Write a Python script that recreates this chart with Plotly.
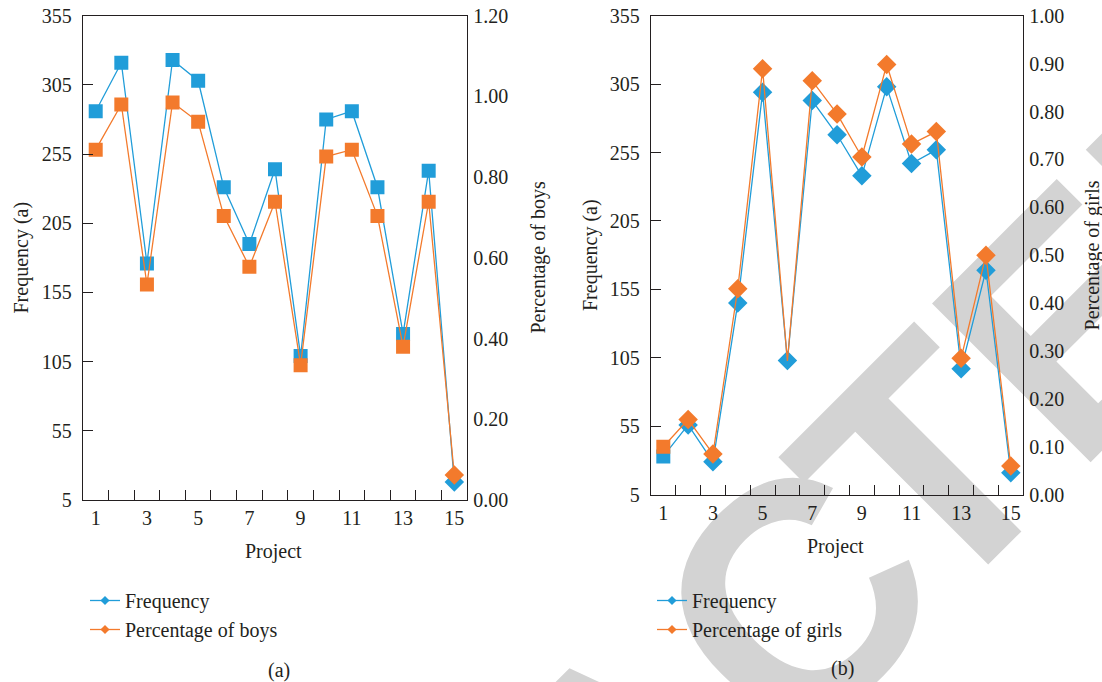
import plotly.graph_objects as go

# ---------------- data ----------------
projects = [str(i) for i in range(1, 16)]
tick_labels = ["1", "", "3", "", "5", "", "7", "", "9", "", "11", "", "13", "", "15"]

freq_a = [286, 321, 176, 323, 308, 231, 190, 244, 109, 280, 286, 231, 125, 243, 18]
boys_pct = [0.868, 0.980, 0.534, 0.985, 0.937, 0.704, 0.578, 0.739, 0.334,
            0.851, 0.868, 0.704, 0.380, 0.739, 0.062]

freq_b = [33, 56, 29, 145, 299, 103, 293, 268, 238, 303, 247, 257, 97, 169, 21]
girls_pct = [0.100, 0.157, 0.085, 0.430, 0.889, 0.279, 0.864, 0.795, 0.705,
             0.898, 0.732, 0.758, 0.285, 0.500, 0.060]

freq_ticks = [5, 55, 105, 155, 205, 255, 305, 355]
boys_ticks = [0, 0.2, 0.4, 0.6, 0.8, 1.0, 1.2]
girls_ticks = [0, 0.1, 0.2, 0.3, 0.4, 0.5, 0.6, 0.7, 0.8, 0.9, 1.0]

# ---------------- styles ----------------
BLUE = "#219DD9"
ORANGE = "#F37A2C"
INK = "#231F20"
SERIF = "Liberation Serif, Times New Roman, serif"
W, H = 1102, 682

sym_a = ["square"] * 14 + ["diamond"]
size_a = [14] * 14 + [15]
sym_b = ["square"] + ["diamond"] * 14
size_b = [14] + [15] * 14
size_girls = [14] + [15] * 4 + [0] + [15] * 9


def px(x):
    return x / W


def py(y):
    return 1 - y / H


def mk(color, symbols, sizes):
    return dict(color=color, symbol=symbols, size=sizes, opacity=1, line=dict(width=0))


fig = go.Figure()

# left chart
fig.add_trace(go.Scatter(x=projects, y=freq_a, xaxis="x", yaxis="y", mode="lines+markers",
                         line=dict(color=BLUE, width=1.3), marker=mk(BLUE, sym_a, size_a),
                         showlegend=False, name="Frequency"))
fig.add_trace(go.Scatter(x=projects, y=boys_pct, xaxis="x", yaxis="y2", mode="lines+markers",
                         line=dict(color=ORANGE, width=1.3), marker=mk(ORANGE, sym_a, size_a),
                         showlegend=False, name="Percentage of boys"))
# right chart
fig.add_trace(go.Scatter(x=projects, y=freq_b, xaxis="x2", yaxis="y3", mode="lines+markers",
                         line=dict(color=BLUE, width=1.3), marker=mk(BLUE, sym_b, size_b),
                         showlegend=False, name="Frequency"))
fig.add_trace(go.Scatter(x=projects, y=girls_pct, xaxis="x2", yaxis="y4", mode="lines+markers",
                         line=dict(color=ORANGE, width=1.3), marker=mk(ORANGE, sym_b, size_girls),
                         showlegend=False, name="Percentage of girls"))

# legend entries
for name, col, leg, xa, ya in [("Frequency", BLUE, "legend", "x", "y"),
                               ("Percentage of boys", ORANGE, "legend", "x", "y2"),
                               ("Frequency", BLUE, "legend2", "x2", "y3"),
                               ("Percentage of girls", ORANGE, "legend2", "x2", "y4")]:
    fig.add_trace(go.Scatter(x=[None], y=[None], xaxis=xa, yaxis=ya, mode="lines+markers",
                             line=dict(color=col, width=1.3),
                             marker=dict(color=col, symbol="diamond", size=7),
                             name=name, legend=leg, showlegend=True))

tickfont = dict(family=SERIF, size=20, color=INK)
xcommon = dict(type="category", tickvals=projects, ticktext=tick_labels, tickson="boundaries",
               ticks="inside", ticklen=10, tickwidth=1.3, tickcolor=INK, tickangle=0,
               showline=True, linecolor=INK, linewidth=1.3, mirror=True, automargin=False,
               showgrid=False, zeroline=False, tickfont=tickfont, ticklabelstandoff=0,
               range=[-0.5, 14.5], fixedrange=True)
yleft = dict(showline=True, linecolor=INK, linewidth=1.3, ticks="inside", ticklen=10,
             tickwidth=1.3, tickcolor=INK, showgrid=False, zeroline=False, automargin=False,
             tickfont=tickfont, ticklabelstandoff=6)
yright = dict(showline=True, linecolor=INK, linewidth=1.3, ticks="", showgrid=False,
              zeroline=False, tickfont=tickfont, tickformat=".2f", side="right",
              automargin=False, ticklabelstandoff=1)

wm_font = dict(family="Liberation Sans, Arial, sans-serif", size=326, color="#D3D3D3", weight="bold")
annotations = [
    dict(text="RETRAC", xref="paper", yref="paper", x=px(398), y=py(997),
         xanchor="center", yanchor="middle", textangle=-45, showarrow=False, font=wm_font),
    dict(text="TED", xref="paper", yref="paper", x=px(1085), y=py(308),
         xanchor="center", yanchor="middle", textangle=-45, showarrow=False, font=wm_font),
]
for txt, x, y, ang in [("Project", 273, 551.7, 0), ("Project", 835, 546.7, 0),
                       ("(a)", 279, 670, 0), ("(b)", 842, 668, 0),
                       ("Frequency (a)", 20.5, 258, -90), ("Percentage of boys", 537.5, 258, -90),
                       ("Frequency (a)", 590, 255, -90), ("Percentage of girls", 1092.4, 255, -90)]:
    annotations.append(dict(text=txt, xref="paper", yref="paper", x=px(x), y=py(y),
                            xanchor="center", yanchor="middle", textangle=ang, showarrow=False,
                            font=dict(family=SERIF, size=20, color=INK)))

legend_style = dict(font=dict(family=SERIF, size=20, color=INK), bgcolor="rgba(0,0,0,0)",
                    xanchor="left", yanchor="top", tracegroupgap=0, itemwidth=30)

fig.update_layout(
    width=W, height=H, margin=dict(l=0, r=0, t=0, b=0, autoexpand=False),
    paper_bgcolor="white", plot_bgcolor="rgba(0,0,0,0)",
    xaxis=dict(domain=[px(82.9), px(467.1)], anchor="y", **xcommon),
    yaxis=dict(domain=[py(500), py(15.7)], anchor="x", range=[5, 355], tickvals=freq_ticks, **yleft),
    yaxis2=dict(overlaying="y", anchor="x", range=[0, 1.2], tickvals=boys_ticks, **yright),
    xaxis2=dict(domain=[px(650.9), px(1023.2)], anchor="y3", **xcommon),
    yaxis3=dict(domain=[py(494.7), py(15.7)], anchor="x2", range=[5, 355], tickvals=freq_ticks, **yleft),
    yaxis4=dict(overlaying="y3", anchor="x2", range=[0, 1.0], tickvals=girls_ticks, **yright),
    legend=dict(x=px(85), y=py(581), **legend_style),
    legend2=dict(x=px(652), y=py(581), **legend_style),
    annotations=annotations,
    showlegend=True,
)

post = """
document.body.style.margin = '0';
document.body.style.padding = '0';
var gd = document.getElementById('{plot_id}');
var cl = gd.querySelector('.main-svg .cartesianlayer');
[0, 1].forEach(function (i) {
  var ann = gd.querySelector('.annotation[data-index="' + i + '"]');
  if (ann && cl) { cl.parentNode.insertBefore(ann, cl); }
});
"""

fig.write_html("out.html", post_script=post, config={"displayModeBar": False})
